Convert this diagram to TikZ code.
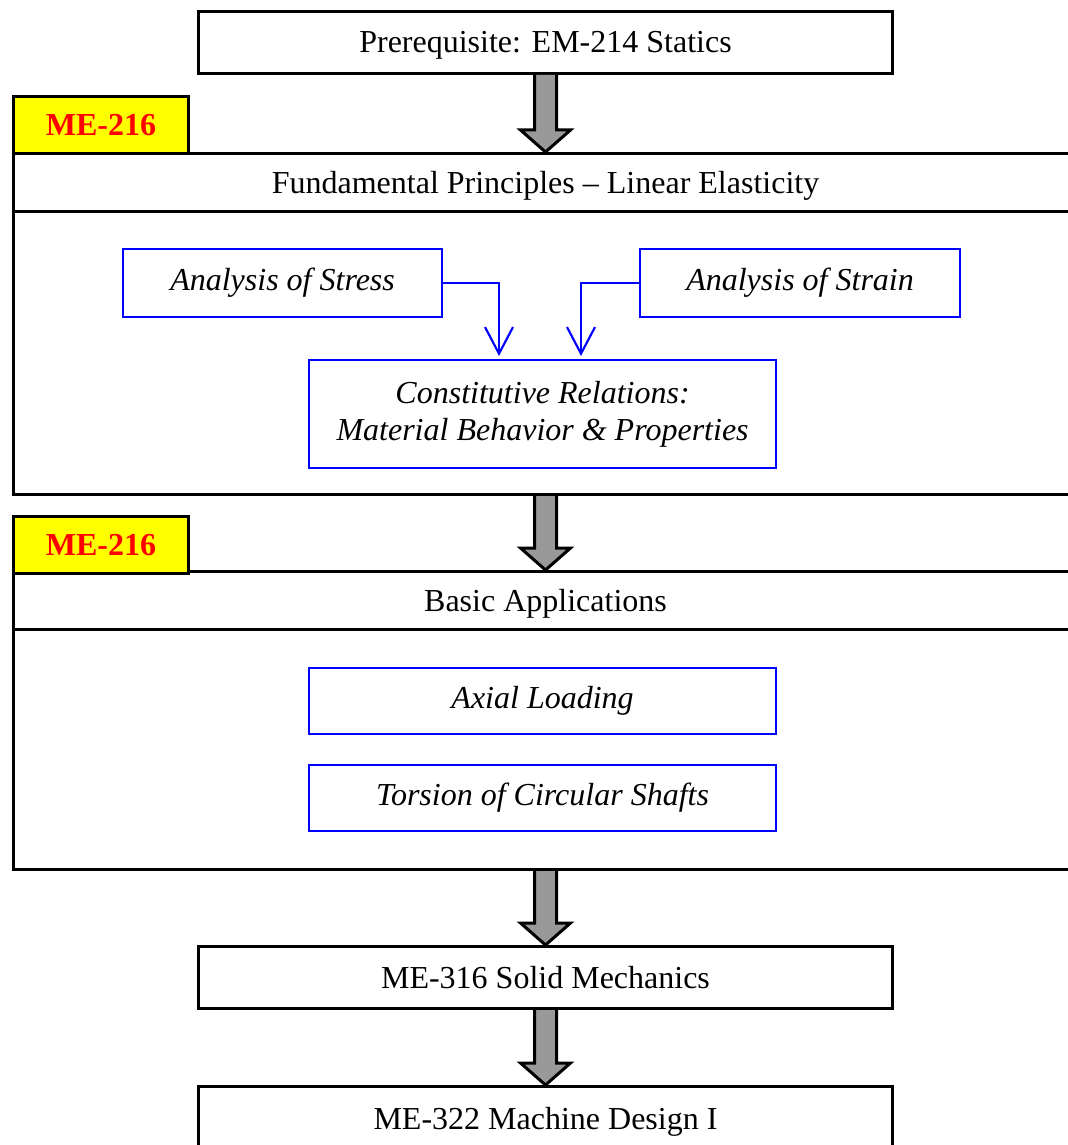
\documentclass[tikz,border=0pt]{standalone}
\usepackage{fontspec}
\setmainfont{Liberation Serif}
\usetikzlibrary{calc,arrows.meta}
\definecolor{arrgray}{RGB}{153,153,153}
\definecolor{pureblue}{RGB}{0,0,255}
\definecolor{purered}{RGB}{255,0,0}
\definecolor{pureyellow}{RGB}{255,255,0}
\tikzset{
  blackbox/.style={draw=black, line width=2.25pt, fill=white, anchor=north west, inner sep=0pt,
    text height=20pt, text depth=4.25pt,
    font=\fontsize{24pt}{28pt}\selectfont},
  framebox/.style={draw=black, line width=2.25pt, anchor=north west, inner sep=0pt},
  tagbox/.style={draw=black, line width=2.25pt, fill=pureyellow, anchor=north west, inner sep=0pt,
    text=purered, font=\fontsize{24pt}{28pt}\selectfont\bfseries,
    minimum width=131.25pt, minimum height=42.75pt},
  bluebox/.style={draw=pureblue, line width=1.6pt, fill=white, anchor=north west, inner sep=0pt,
    align=center, font=\fontsize{24pt}{27.75pt}\selectfont\itshape},
  bigarr/.style={draw=black, line width=2.25pt, fill=arrgray, line join=miter},
  bluearr/.style={draw=pureblue, line width=1.6pt, -{Straight Barb[length=20pt,width=21pt]}}
}
\newcommand\bigarrow[2]{%
  \path[bigarr] ($(#1.south)+(-11,0)$) -- ($(#1.south |- #2.north)+(-11,-22)$)
    -- ($(#1.south |- #2.north)+(-25,-22)$) -- (#1.south |- #2.north)
    -- ($(#1.south |- #2.north)+(25,-22)$) -- ($(#1.south |- #2.north)+(11,-22)$)
    -- ($(#1.south)+(11,0)$);}
\begin{document}
\begin{tikzpicture}[x=0.75pt,y=-0.75pt]
\useasboundingbox (0,0) rectangle (1067,1145);
% top prerequisite
\node[blackbox, minimum width=520.5pt, minimum height=46.5pt] (pre) at (197,10) {Prerequisite: EM-214 Statics};
% first block
\node[framebox, minimum width=798pt, minimum height=255.75pt] (big1) at (12,152) {};
\node[blackbox, minimum width=798pt, minimum height=43.5pt] (title1) at (12,152) {Fundamental Principles – Linear Elasticity};
\node[tagbox] (lab1) at (12,95) {ME-216};
\node[bluebox, minimum width=239.25pt, minimum height=51pt] (stress) at (122,248) {Analysis of Stress};
\node[bluebox, minimum width=240pt, minimum height=51pt] (strain) at (639,248) {Analysis of Strain};
\node[bluebox, minimum width=350.25pt, minimum height=81pt] (const) at (308,359) {Constitutive Relations:\\Material Behavior \& Properties};
\draw[bluearr] (stress.east) -| ($(const.north west)+(191,-3)$);
\draw[bluearr] (strain.west) -| ($(const.north west)+(273,-3)$);
% second block
\node[framebox, minimum width=798pt, minimum height=223.5pt] (big2) at (12,570) {};
\node[blackbox, minimum width=798pt, minimum height=43.5pt] (title2) at (12,570) {Basic Applications};
\node[tagbox] (lab2) at (12,515) {ME-216};
\node[bluebox, minimum width=350.25pt, minimum height=49.5pt] (axial) at (308,667) {Axial Loading};
\node[bluebox, minimum width=350.25pt, minimum height=49.5pt] (torsion) at (308,764) {Torsion of Circular Shafts};
% follow-up courses
\node[blackbox, minimum width=520.5pt, minimum height=46.5pt] (me316) at (197,945) {ME-316 Solid Mechanics};
\node[blackbox, minimum width=520.5pt, minimum height=48pt] (me322) at (197,1085) {ME-322 Machine Design I};
% big arrows
\bigarrow{pre}{title1}
\bigarrow{big1}{title2}
\bigarrow{big2}{me316}
\bigarrow{me316}{me322}
\end{tikzpicture}
\end{document}
